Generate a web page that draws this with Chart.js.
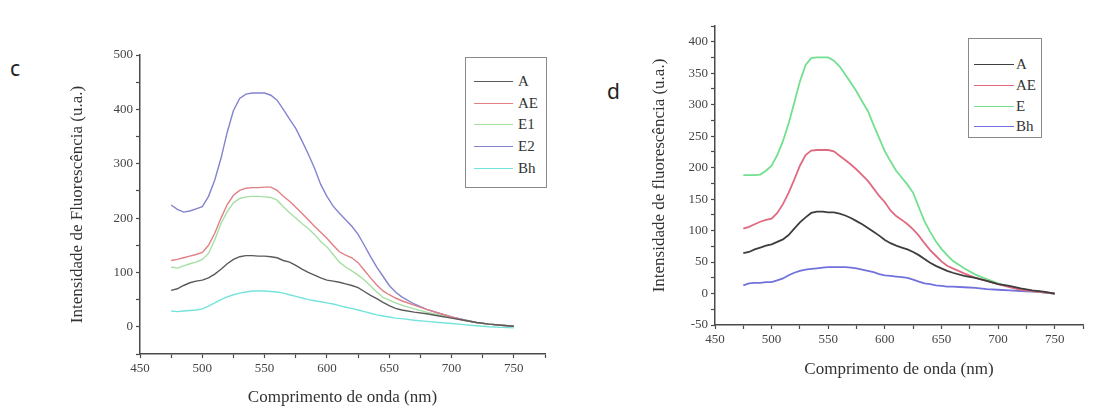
<!DOCTYPE html>
<html>
<head>
<meta charset="utf-8">
<script src="https://cdn.jsdelivr.net/npm/chart.js@4.4.0/dist/chart.umd.min.js"></script>
<style>
  body { margin: 0; background: #fff; width: 1103px; height: 408px; position: relative; overflow: hidden; }
  .panel { position: absolute; top: 0; }
  .tag { position: absolute; font-family: "Noto Sans", sans-serif; font-size: 21px; color: #222; line-height: 1; }
  .legend { position: absolute; border: 1px solid #8a8a8a; background: #fff; box-sizing: border-box; }
  .legend .row { position: absolute; left: 0; height: 0; }
  .legend .swatch { position: absolute; top: 0; }
  .legend .lbl { position: absolute; top: -9px; font-family: "Liberation Serif", serif; font-size: 15px; color: #333; line-height: 18px; }
</style>
</head>
<body>
<div class="tag" style="left:10px;top:58px;">c</div>
<div class="tag" style="left:607px;top:81px;">d</div>

<canvas id="chartC" class="panel" style="left:0;" width="560" height="408"></canvas>
<canvas id="chartD" class="panel" style="left:560px;" width="543" height="408"></canvas>

<div id="legendC" class="legend" style="left:465px;top:57px;width:82px;height:131px;"></div>
<div id="legendD" class="legend" style="left:968px;top:38px;width:74px;height:100px;"></div>

<script>
// wavelengths (nm), shared by every curve
const wavelengths = [475, 480, 485, 490, 495, 500, 505, 510, 515, 520, 525, 530, 535, 540, 545, 550,
    555, 560, 565, 570, 575, 580, 585, 590, 595, 600, 605, 610, 615, 620, 625, 630, 635, 640, 645,
    650, 655, 660, 670, 680, 690, 700, 710, 720, 730, 740, 750];

// panel c
const cA  = [67, 70, 76, 81, 84, 86, 90, 97, 106, 116, 124, 129, 131, 131, 130, 130, 129, 127, 122, 119,
    113, 106, 100, 95, 90, 86, 84, 82, 79, 76, 72, 65, 58, 52, 45, 39, 34, 31, 27, 24, 20, 16, 12, 8, 5, 3, 1];
const cAE = [122, 124, 127, 130, 133, 137, 150, 172, 200, 225, 242, 251, 255, 256, 256, 257, 257, 251, 240, 231,
    220, 209, 197, 185, 174, 163, 150, 138, 132, 127, 118, 104, 90, 77, 66, 59, 53, 48, 40, 32, 25, 18, 12, 8, 5, 3, 1];
const cE1 = [110, 108, 112, 116, 119, 124, 135, 160, 190, 212, 228, 236, 239, 240, 240, 239, 238, 233, 221, 210,
    200, 190, 181, 170, 157, 147, 133, 119, 110, 103, 95, 86, 75, 64, 54, 49, 44, 40, 33, 27, 22, 17, 12, 8, 5, 3, 1];
const cE2 = [224, 216, 211, 213, 217, 221, 240, 270, 310, 358, 398, 420, 428, 430, 430, 430, 426, 417, 400, 382,
    365, 342, 318, 292, 262, 240, 222, 209, 197, 185, 170, 150, 129, 110, 93, 76, 64, 55, 42, 32, 25, 18, 13, 8, 5, 3, 1];
const cBh = [29, 28, 29, 30, 31, 33, 38, 44, 50, 55, 59, 62, 64, 66, 66, 66, 65, 64, 62, 59,
    56, 53, 50, 48, 46, 44, 42, 39, 36, 34, 31, 28, 25, 22, 20, 18, 16, 15, 12, 10, 8, 6, 4, 2, 0, -1, -2];

// panel d
const dA  = [64, 66, 70, 73, 76, 78, 82, 86, 93, 103, 113, 121, 128, 130, 130, 129, 129, 127, 124, 120,
    115, 110, 104, 98, 92, 85, 80, 76, 73, 70, 66, 61, 55, 49, 44, 40, 36, 33, 28, 25, 20, 15, 12, 8, 5, 3, 0];
const dAE = [103, 106, 110, 114, 117, 119, 128, 142, 160, 181, 203, 220, 227, 228, 228, 228, 226, 219, 212, 205,
    197, 188, 179, 167, 155, 145, 132, 123, 117, 110, 102, 92, 80, 69, 60, 51, 44, 40, 32, 25, 20, 15, 10, 6, 4, 2, 0];
const dE  = [188, 188, 188, 189, 195, 203, 220, 242, 270, 303, 337, 363, 374, 375, 375, 375, 370, 361, 348, 335,
    321, 305, 290, 268, 247, 226, 210, 195, 184, 173, 160, 137, 115, 98, 83, 71, 61, 52, 40, 30, 23, 16, 11, 7, 4, 2, 0];
const dBh = [13, 16, 17, 17, 18, 18, 21, 24, 29, 33, 36, 38, 39, 40, 41, 42, 42, 42, 42, 41,
    40, 38, 36, 34, 31, 29, 28, 27, 26, 25, 22, 19, 16, 15, 13, 12, 11, 11, 10, 9, 7, 6, 5, 4, 3, 2, 0];

const xTitle = 'Comprimento de onda (nm)';

function toPoints(values) {
    return values.map((v, i) => ({ x: wavelengths[i], y: v }));
}

function buildChart(canvasId, series, opts) {
    return new Chart(document.getElementById(canvasId), {
        type: 'line',
        data: {
            datasets: series.map(s => ({
                label: s.label,
                data: toPoints(s.values),
                borderColor: s.color,
                borderWidth: opts.lineWidth,
                pointRadius: 0,
                tension: 0,
                fill: false
            }))
        },
        options: {
            responsive: false,
            animation: false,
            layout: { padding: opts.padding },
            plugins: { legend: { display: false }, tooltip: { enabled: false } },
            scales: {
                x: {
                    type: 'linear',
                    min: 450, max: 775,
                    afterFit: s => { s.height = opts.xHeight; },
                    border: { color: '#4a4a4a', width: 1.5 },
                    grid: { drawOnChartArea: false, tickLength: 4, tickColor: '#4a4a4a', tickWidth: 1.2 },
                    ticks: {
                        stepSize: 25, autoSkip: false, maxRotation: 0, padding: 3,
                        color: '#444', font: { family: 'Liberation Serif', size: 13 },
                        callback: v => (v % 50 === 0 ? v : '')
                    },
                    title: {
                        display: true, text: xTitle, color: '#333',
                        font: { family: 'Liberation Serif', size: 17 },
                        padding: { top: 0, bottom: 0 }
                    }
                },
                y: {
                    min: -50, max: opts.yMax,
                    afterFit: s => { s.width = opts.yWidth; },
                    border: { color: '#4a4a4a', width: 1.5 },
                    grid: { drawOnChartArea: false, tickLength: 4, tickColor: '#4a4a4a', tickWidth: 1.2 },
                    ticks: {
                        stepSize: opts.yStep, autoSkip: false, padding: 3,
                        color: '#444', font: { family: 'Liberation Serif', size: 13 },
                        callback: v => (v % opts.yLabelEvery === 0 ? v : '')
                    },
                    title: {
                        display: true, text: opts.yTitle, color: '#333',
                        font: { family: 'Liberation Serif', size: 17 },
                        padding: { top: 7, bottom: 0 }
                    }
                }
            }
        }
    });
}

function fillLegend(id, chart, first, spacing, lineFrom, lineTo, textAt, lineWidth) {
    const box = document.getElementById(id);
    box.innerHTML = chart.data.datasets.map((ds, i) => `
        <div class="row" style="top:${first + i * spacing}px;">
            <div class="swatch" style="left:${lineFrom}px;width:${lineTo - lineFrom}px;border-top:${lineWidth}px solid ${ds.borderColor};"></div>
            <div class="lbl" style="left:${textAt}px;">${ds.label}</div>
        </div>`).join('');
}

const chartC = buildChart('chartC', [
    { label: 'A',  values: cA,  color: '#5a5a5a' },
    { label: 'AE', values: cAE, color: '#e07f84' },
    { label: 'E1', values: cE1, color: '#a6dfa4' },
    { label: 'E2', values: cE2, color: '#8383cf' },
    { label: 'Bh', values: cBh, color: '#74e3dc' }
], {
    lineWidth: 1.4, yMax: 500, yStep: 50, yLabelEvery: 100, yWidth: 80, xHeight: 54,
    padding: { left: 60, top: 55, right: 15, bottom: 0 },
    yTitle: 'Intensidade de Fluorescência (u.a.)'
});

const chartD = buildChart('chartD', [
    { label: 'A',  values: dA,  color: '#3e3e3e' },
    { label: 'AE', values: dAE, color: '#e06a80' },
    { label: 'E',  values: dE,  color: '#72e08e' },
    { label: 'Bh', values: dBh, color: '#7272dc' }
], {
    lineWidth: 1.8, yMax: 425, yStep: 25, yLabelEvery: 50, yWidth: 73, xHeight: 55,
    padding: { left: 82, top: 26, right: 20, bottom: 28 },
    yTitle: 'Intensidade de fluorescência (u.a.)'
});

fillLegend('legendC', chartC, 23, 21.7, 8, 47, 52, 1.4);
fillLegend('legendD', chartD, 25, 20.8, 5, 45, 47, 1.8);
</script>
</body>
</html>
